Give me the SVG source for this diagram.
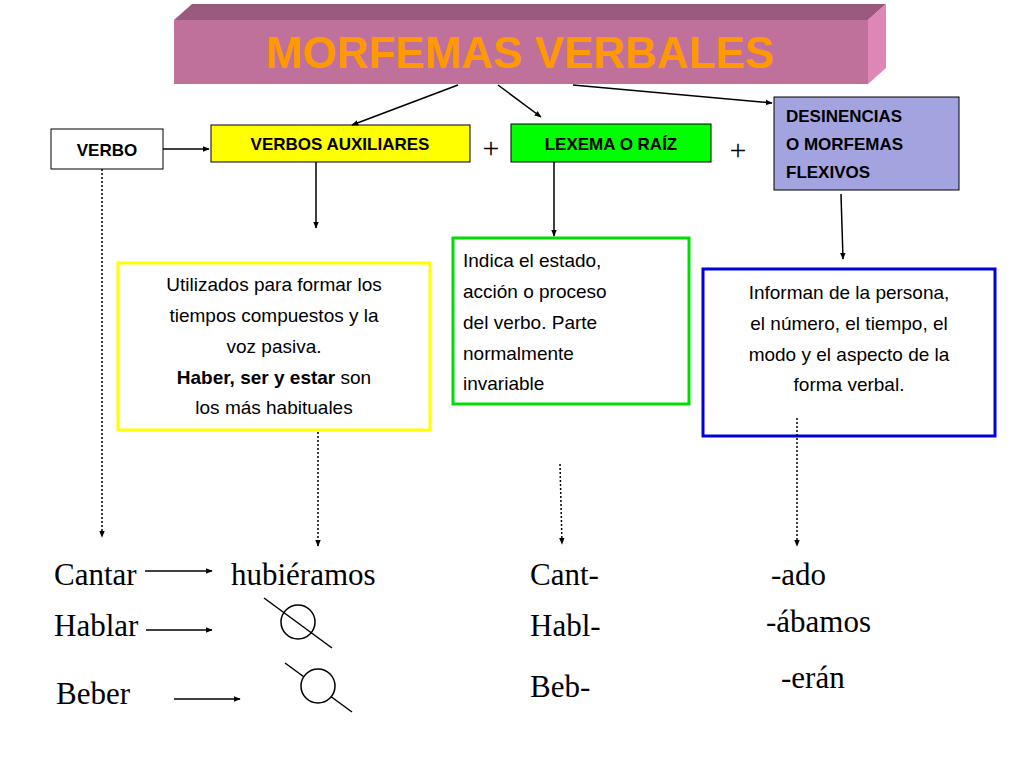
<svg xmlns="http://www.w3.org/2000/svg" width="1024" height="768" viewBox="0 0 1024 768">
<defs>
<marker id="ah" viewBox="0 0 10 10" refX="9" refY="5" markerWidth="7" markerHeight="7" orient="auto" markerUnits="userSpaceOnUse"><path d="M0,1 L10,5 L0,9 z" fill="#000"/></marker>
</defs>
<style>
.b{font-family:"Liberation Sans",Arial,sans-serif;font-weight:bold;font-size:17px;fill:#000}
.t{font-family:"Liberation Sans",Arial,sans-serif;font-size:19px;fill:#000}
.s{font-family:"Liberation Serif","Times New Roman",serif;font-size:31px;fill:#000}
.c line,.c path{stroke:#000;stroke-width:1.5;fill:none}
.d{stroke-dasharray:2,2}
</style>
<rect width="1024" height="768" fill="#fff"/>
<g id="title">
<polygon points="174,20 192,4 886,4 868,20" fill="#9a5a7e"/>
<polygon points="868,20 886,4 886,68 868,84" fill="#de86b6"/>
<rect x="174" y="20" width="694" height="64" fill="#c0719b"/>
<text x="520" y="68" text-anchor="middle" font-family="Liberation Sans,Arial,sans-serif" font-weight="bold" font-size="44" fill="#ff9900">MORFEMAS VERBALES</text>
</g>
<g id="verbo"><rect x="51" y="129" width="112" height="40" fill="#fff" stroke="#000"/><text class="b" x="107" y="156" text-anchor="middle">VERBO</text></g>
<g id="aux"><rect x="211" y="125" width="259" height="37" fill="#ffff00" stroke="#000"/><text class="b" x="340" y="150" text-anchor="middle">VERBOS AUXILIARES</text></g>
<g id="lex"><rect x="511" y="124" width="200" height="38" fill="#00ff00" stroke="#000"/><text class="b" x="611" y="150" text-anchor="middle">LEXEMA O RAÍZ</text></g>
<g id="des"><rect x="774" y="97" width="185" height="93" fill="#a3a3e0" stroke="#000"/><text class="b" x="786" y="122">DESINENCIAS</text><text class="b" x="786" y="150">O MORFEMAS</text><text class="b" x="786" y="178">FLEXIVOS</text></g>
<text x="491" y="158" text-anchor="middle" font-family="Liberation Serif,serif" font-size="30">+</text>
<text x="738" y="160" text-anchor="middle" font-family="Liberation Serif,serif" font-size="30">+</text>
<g id="auxdesc"><rect x="118" y="263" width="312" height="167" fill="#fff" stroke="#ffff00" stroke-width="3"/>
<text class="t" text-anchor="middle"><tspan x="274" y="291">Utilizados para formar los</tspan><tspan x="274" y="322">tiempos compuestos y la</tspan><tspan x="274" y="353">voz pasiva.</tspan><tspan x="274" y="384"><tspan font-weight="bold">Haber, ser y estar</tspan> son</tspan><tspan x="274" y="414">los más habituales</tspan></text></g>
<g id="lexdesc"><rect x="453" y="238" width="236" height="166" fill="#fff" stroke="#00dd00" stroke-width="3"/>
<text class="t"><tspan x="463" y="267">Indica el estado,</tspan><tspan x="463" y="298">acción o proceso</tspan><tspan x="463" y="329">del verbo. Parte</tspan><tspan x="463" y="360">normalmente</tspan><tspan x="463" y="390">invariable</tspan></text></g>
<g id="desdesc"><rect x="703" y="269" width="292" height="167" fill="#fff" stroke="#0000dd" stroke-width="3"/>
<text class="t" text-anchor="middle"><tspan x="849" y="299">Informan de la persona,</tspan><tspan x="849" y="330">el número, el tiempo, el</tspan><tspan x="849" y="361">modo y el aspecto de la</tspan><tspan x="849" y="391">forma verbal.</tspan></text></g>
<g id="words">
<text class="s" x="54" y="585">Cantar</text><text class="s" x="231" y="585">hubiéramos</text>
<text class="s" x="54" y="636">Hablar</text><text class="s" x="56" y="704">Beber</text>
<text class="s" x="530" y="585">Cant-</text><text class="s" x="530" y="636">Habl-</text><text class="s" x="530" y="697">Beb-</text>
<text class="s" x="771" y="585">-ado</text><text class="s" x="766" y="632">-ábamos</text><text class="s" x="781" y="688">-erán</text>
</g>
<g id="connectors" class="c">
<line x1="458" y1="85" x2="352" y2="125" marker-end="url(#ah)"/>
<line x1="498" y1="85" x2="541" y2="117" marker-end="url(#ah)"/>
<line x1="573" y1="85" x2="772" y2="103" marker-end="url(#ah)"/>
<line x1="163" y1="149" x2="209" y2="149" marker-end="url(#ah)"/>
<line x1="316" y1="162" x2="316" y2="228" marker-end="url(#ah)"/>
<line x1="554" y1="162" x2="554" y2="236" marker-end="url(#ah)"/>
<line x1="841" y1="194" x2="843" y2="259" marker-end="url(#ah)"/>
<line class="d" x1="102" y1="169" x2="102" y2="537" marker-end="url(#ah)"/>
<line class="d" x1="318" y1="432" x2="318" y2="546" marker-end="url(#ah)"/>
<line class="d" x1="560" y1="464" x2="562" y2="544" marker-end="url(#ah)"/>
<line class="d" x1="797" y1="418" x2="797" y2="546" marker-end="url(#ah)"/>
<line x1="145" y1="571" x2="212" y2="571" marker-end="url(#ah)"/>
<line x1="146" y1="630" x2="212" y2="630" marker-end="url(#ah)"/>
<line x1="174" y1="699" x2="240" y2="699" marker-end="url(#ah)"/>
<line x1="264" y1="598" x2="332" y2="648"/>
<circle cx="298" cy="622" r="17" fill="none" stroke="#000" stroke-width="1.5"/>
<line x1="285" y1="663" x2="352" y2="712"/>
<circle cx="318" cy="686" r="17" fill="#fff" stroke="#000" stroke-width="1.5"/>
</g>
</svg>
